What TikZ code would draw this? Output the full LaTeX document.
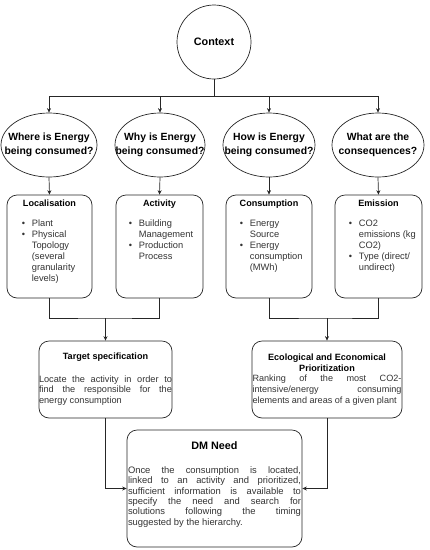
\documentclass[tikz,border=0pt]{standalone}
\usepackage{fontspec}
\setmainfont{Liberation Sans}
\usetikzlibrary{shapes.geometric,arrows.meta,calc}
\newcommand{\nohy}{\hyphenpenalty10000\exhyphenpenalty10000\relax}
\newcommand{\bul}{\textbullet}
\begin{document}
\begin{tikzpicture}[x=1pt,y=-1pt,
  line/.style={draw=black!85,line width=0.7pt},
  arr/.style={line,-{Stealth[length=4.5pt,width=4pt]}},
  qell/.style={ellipse,line,minimum height=64pt,inner sep=0pt},
  qtxt/.style={inner sep=0pt,align=center,font=\fontsize{10.4}{14}\selectfont\bfseries},
  cbox/.style={line,rounded corners=10pt,minimum height=103pt,inner sep=0pt},
  bbox/.style={line,rounded corners=10pt,inner sep=0pt},
  ttl/.style={inner sep=0pt,font=\fontsize{9.1}{11}\selectfont\bfseries,align=center},
  blist/.style={inner sep=0pt,anchor=north west,font=\fontsize{9.3}{11}\selectfont,text=black!80},
  body/.style={inner sep=0pt,anchor=north,align=justify,font=\fontsize{9.2}{10.8}\selectfont,text=black!80}]
\useasboundingbox (0,0) rectangle (430,550);
% context
\node[circle,line,minimum size=74pt,inner sep=0pt,font=\fontsize{10.8}{13}\selectfont\bfseries] (ctx) at (214,42) {Context};
% questions
\node[qell,minimum width=96pt] (e1) at (49,145) {};
\node[qell,minimum width=90pt] (e2) at (160,145) {};
\node[qell,minimum width=92pt] (e3) at (269,145) {};
\node[qell,minimum width=92pt] (e4) at (378,145) {};
\node[qtxt] (q1) at (e1.center) {Where is Energy\\being consumed?};
\node[qtxt] (q2) at (e2.center) {Why is Energy\\being consumed?};
\node[qtxt] (q3) at (e3.center) {How is Energy\\being consumed?};
\node[qtxt] (q4) at (e4.center) {What are the\\consequences?};
\coordinate (bar) at (214,96);
\draw[line] (ctx.south) -- (bar);
\draw[line] (e1 |- bar) -- (e4 |- bar);
\foreach \e in {e1,e2,e3,e4} \draw[arr] (\e |- bar) -- (\e.north);
% category boxes
\node[cbox,minimum width=85pt] (r1) at (49.5,246.5) {};
\node[cbox,minimum width=87pt] (r2) at (159.5,246.5) {};
\node[cbox,minimum width=86pt] (r3) at (269,246.5) {};
\node[cbox,minimum width=87pt] (r4) at (378.5,246.5) {};
\foreach \e/\r in {e1/r1,e2/r2,e3/r3,e4/r4} \draw[arr] (\e.south) -- (\r.north);
\node[ttl] (t1) at ($(r1.north)+(0,9)$) {Localisation};
\node[ttl] (t2) at ($(r2.north)+(0,9)$) {Activity};
\node[ttl] (t3) at ($(r3.north)+(0,9)$) {Consumption};
\node[ttl] (t4) at ($(r4.north)+(0,9)$) {Emission};
\node[blist] (l1) at ($(r1.west |- 0,219)+(15,0)$) {\begin{tabular}{@{}p{10pt}@{}l@{}}\bul&Plant\\\bul&Physical\\&Topology\\&(several\\&granularity\\&levels)\end{tabular}};
\node[blist] (l2) at ($(r2.west |- 0,219)+(13,0)$) {\begin{tabular}{@{}p{10pt}@{}l@{}}\bul&Building\\&Management\\\bul&Production\\&Process\end{tabular}};
\node[blist] (l3) at ($(r3.west |- 0,219)+(14,0)$) {\begin{tabular}{@{}p{10pt}@{}l@{}}\bul&Energy\\&Source\\\bul&Energy\\&consumption\\&(MWh)\end{tabular}};
\node[blist] (l4) at ($(r4.west |- 0,219)+(14,0)$) {\begin{tabular}{@{}p{10pt}@{}l@{}}\bul&CO2\\&emissions (kg\\&CO2)\\\bul&Type (direct/\\&undirect)\end{tabular}};
% joins
\coordinate (j1) at (105.5,318);
\coordinate (j2) at (327,318);
\draw[line] (r1.south) |- (j1) -| (r2.south);
\draw[line] (r3.south) |- (j2) -| (r4.south);
% second level
\node[bbox,minimum width=133pt,minimum height=77pt] (ts) at (105.5,379.5) {};
\node[bbox,minimum width=150pt,minimum height=77pt] (eco) at (327,379.5) {};
\draw[arr] (j1) -- (ts.north);
\draw[arr] (j2) -- (eco.north);
\node[ttl] (tst) at ($(ts.north)+(0,17)$) {Target specification};
\node[ttl] (ecot) at ($(eco.north)+(0,22.5)$) {Ecological and Economical\\Prioritization};
\node[body,text width=133pt] (tsb) at ($(ts.north)+(0,34.5)$) {\nohy Locate the activity in order to\linebreak find the responsible for the\linebreak energy consumption};
\node[body,text width=149pt,font=\fontsize{9.1}{10.8}\selectfont] (ecob) at ($(eco.north)+(0,34.5)$) {\nohy Ranking of the most CO2-\linebreak intensive/energy consuming\linebreak \mbox{elements and areas of a given plant}};
% DM need
\node[bbox,minimum width=175pt,minimum height=117pt] (dm) at (214.5,488.5) {};
\node[ttl,font=\fontsize{10.8}{13}\selectfont\bfseries] (dmt) at ($(dm.north)+(0,16)$) {DM Need};
\node[body,text width=173pt,font=\fontsize{9.4}{10.3}\selectfont] (dmb) at ($(dm.north)+(0,37)$) {\nohy Once the consumption is located,\linebreak linked to an activity and prioritized,\linebreak sufficient information is available to\linebreak specify the need and search for\linebreak solutions following the timing\linebreak suggested by the hierarchy.};
\draw[arr] (ts.south) |- (dm.west);
\draw[arr] (eco.south) |- (dm.east);
\end{tikzpicture}
\end{document}
